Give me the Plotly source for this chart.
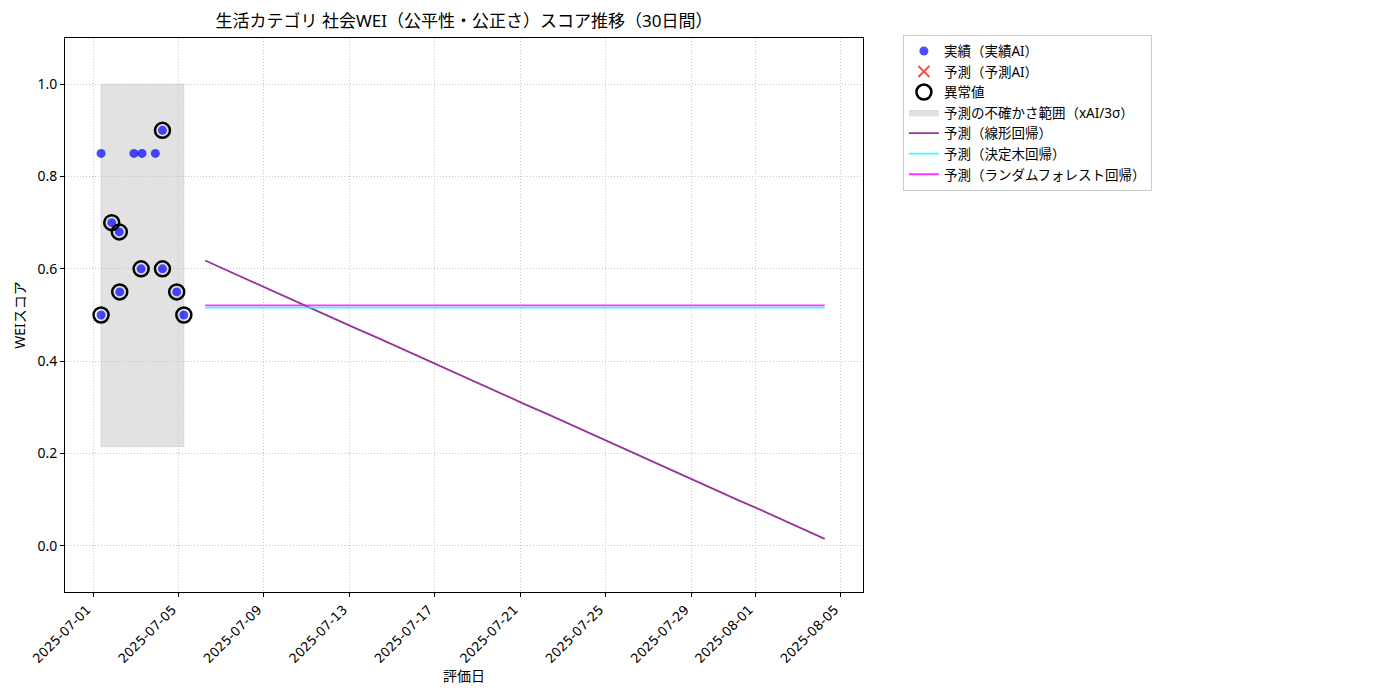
import plotly.graph_objects as go
import pandas as pd

# ---- data ----
actual_dates = [
    "2025-07-01 09:00", "2025-07-01 09:00", "2025-07-01 21:00", "2025-07-02 05:30",
    "2025-07-02 06:00", "2025-07-02 22:00", "2025-07-03 07:00", "2025-07-03 06:00",
    "2025-07-03 22:00", "2025-07-04 06:00", "2025-07-04 06:00", "2025-07-04 22:00",
    "2025-07-05 06:00",
]
actual_scores = [0.85, 0.50, 0.70, 0.68, 0.55, 0.85, 0.85, 0.60, 0.85, 0.90, 0.60, 0.55, 0.50]

anomaly_dates = [
    "2025-07-01 09:00", "2025-07-01 21:00", "2025-07-02 05:30", "2025-07-02 06:00",
    "2025-07-03 06:00", "2025-07-04 06:00", "2025-07-04 06:00", "2025-07-04 22:00",
    "2025-07-05 06:00",
]
anomaly_scores = [0.50, 0.70, 0.68, 0.55, 0.60, 0.90, 0.60, 0.55, 0.50]

band_dates = ["2025-07-01 09:00", "2025-07-05 06:00"]
band_low = 0.215
band_high = 1.0

pred_dates = pd.date_range("2025-07-06 06:00", periods=30, freq="D")
linear_pred = [0.618, 0.597, 0.576, 0.556, 0.535, 0.514, 0.493, 0.472, 0.452, 0.431,
               0.410, 0.389, 0.369, 0.348, 0.327, 0.306, 0.286, 0.265, 0.244, 0.223,
               0.202, 0.182, 0.161, 0.140, 0.119, 0.098, 0.078, 0.057, 0.036, 0.015]
tree_pred = [0.516] * 30
forest_pred = [0.521] * 30

tick_dates = ["2025-07-01", "2025-07-05", "2025-07-09", "2025-07-13", "2025-07-17",
              "2025-07-21", "2025-07-25", "2025-07-29", "2025-08-01", "2025-08-05"]

FONT = "Noto Sans, Noto Sans CJK JP, DejaVu Sans"

fig = go.Figure()

fig.add_trace(go.Scatter(
    x=[band_dates[0], band_dates[1], band_dates[1], band_dates[0], band_dates[0]],
    y=[band_low, band_low, band_high, band_high, band_low],
    mode="lines", fill="toself", fillcolor="rgba(190,190,190,0.45)",
    line=dict(color="rgba(190,190,190,0.45)", width=1),
    name="予測の不確かさ範囲（xAI/3σ）", hoverinfo="skip",
))

fig.add_trace(go.Scatter(
    x=actual_dates, y=actual_scores, mode="markers",
    marker=dict(color="rgba(0,0,255,0.7)", size=9, line=dict(width=0)),
    name="実績（実績AI）",
))

fig.add_trace(go.Scatter(
    x=[None], y=[None], mode="markers",
    marker=dict(symbol="x-thin", color="rgba(255,0,0,0.7)", size=11,
                line=dict(color="rgba(255,0,0,0.7)", width=2)),
    name="予測（予測AI）",
))

fig.add_trace(go.Scatter(
    x=anomaly_dates, y=anomaly_scores, mode="markers",
    marker=dict(symbol="circle-open", color="black", size=15, line=dict(width=2.5, color="black")),
    name="異常値",
))

fig.add_trace(go.Scatter(
    x=pred_dates, y=linear_pred, mode="lines",
    line=dict(color="rgba(128,0,128,0.8)", width=1.8),
    name="予測（線形回帰）",
))
fig.add_trace(go.Scatter(
    x=pred_dates, y=tree_pred, mode="lines",
    line=dict(color="rgba(0,255,255,0.8)", width=1.8),
    name="予測（決定木回帰）",
))
fig.add_trace(go.Scatter(
    x=pred_dates, y=forest_pred, mode="lines",
    line=dict(color="rgba(255,0,255,0.8)", width=1.8),
    name="予測（ランダムフォレスト回帰）",
))

# legend order as in the reference
order = ["実績（実績AI）", "予測（予測AI）", "異常値", "予測の不確かさ範囲（xAI/3σ）",
         "予測（線形回帰）", "予測（決定木回帰）", "予測（ランダムフォレスト回帰）"]
for i, nm in enumerate(order):
    for t in fig.data:
        if t.name == nm:
            t.legendrank = i + 1

# the page adds an ~8px body margin, so offsets are compensated here
fig.update_layout(
    width=1400, height=700,
    margin=dict(l=57, r=545, t=30, b=116, autoexpand=False),
    paper_bgcolor="white", plot_bgcolor="white",
    font=dict(family=FONT, size=14, color="black"),
    title=dict(text="生活カテゴリ 社会WEI（公平性・公正さ）スコア推移（30日間）",
               x=0.5, xref="paper", xanchor="center", y=0.981, yanchor="middle",
               font=dict(size=17)),
    legend=dict(x=1.05, y=1.006, xanchor="left", yanchor="top",
                bordercolor="#cccccc", borderwidth=1, bgcolor="white",
                font=dict(size=13.5), itemwidth=30, tracegroupgap=0),
    showlegend=True,
)

fig.update_xaxes(
    range=["2025-06-29 16:30", "2025-08-06 01:00"],
    tickvals=tick_dates, ticktext=tick_dates, tickangle=-45,
    showline=True, linecolor="black", linewidth=1, mirror=True,
    ticks="outside", ticklen=4, tickcolor="black",
    showgrid=True, gridcolor="#c8c8c8", griddash="1px,2px", gridwidth=1,
    zeroline=False, automargin=False, ticklabelshift=-6,
    title=dict(text="評価日", font=dict(size=14), standoff=2),
    tickfont=dict(size=13, family="DejaVu Sans, Noto Sans"),
)
fig.update_yaxes(
    range=[-0.1, 1.1],
    tickvals=[0.0, 0.2, 0.4, 0.6, 0.8, 1.0], ticktext=["0.0", "0.2", "0.4", "0.6", "0.8", "1.0"],
    showline=True, linecolor="black", linewidth=1, mirror=True,
    ticks="outside", ticklen=4, tickcolor="black",
    showgrid=True, gridcolor="#c8c8c8", griddash="1px,2px", gridwidth=1,
    zeroline=False, automargin=False,
    title=dict(text="WEIスコア", font=dict(size=14), standoff=8),
    tickfont=dict(size=14),
)

fig.write_html("out.html")
